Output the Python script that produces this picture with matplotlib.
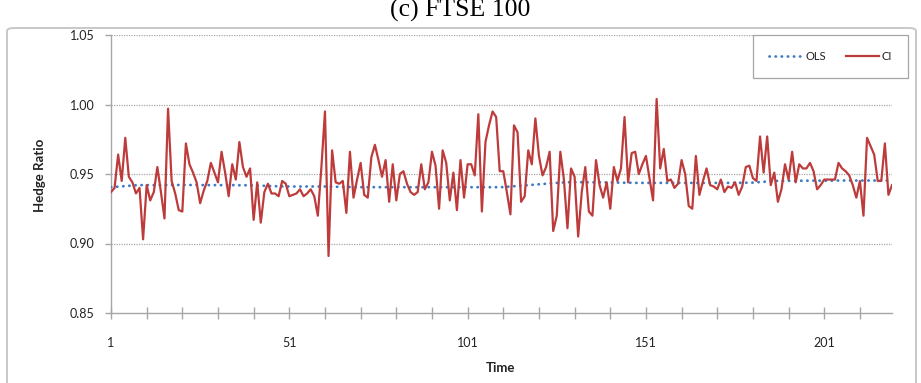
import numpy as np
import matplotlib
matplotlib.use("Agg")
import matplotlib.pyplot as plt
from matplotlib.patches import FancyBboxPatch
from matplotlib.ticker import FixedLocator, FuncFormatter

# Time index (observations 1..220)
time = np.arange(1, 221)

# Hedge ratio from the cointegration (CI) model
ci = [
    0.937, 0.940, 0.964, 0.945, 0.976, 0.948, 0.944, 0.936, 0.940, 0.903,
    0.942, 0.931, 0.937, 0.955, 0.937, 0.918, 0.997, 0.945, 0.936, 0.924,
    0.923, 0.972, 0.957, 0.951, 0.944, 0.929, 0.938, 0.945, 0.958, 0.951,
    0.944, 0.966, 0.951, 0.934, 0.957, 0.946, 0.973, 0.955, 0.948, 0.954,
    0.917, 0.944, 0.915, 0.937, 0.943, 0.936, 0.936, 0.934, 0.945, 0.943,
    0.934, 0.935, 0.936, 0.939, 0.934, 0.936, 0.939, 0.934, 0.920, 0.955,
    0.995, 0.891, 0.967, 0.944, 0.943, 0.945, 0.922, 0.966, 0.933, 0.946,
    0.958, 0.935, 0.933, 0.962, 0.971, 0.960, 0.948, 0.960, 0.930, 0.957,
    0.931, 0.950, 0.952, 0.943, 0.937, 0.935, 0.937, 0.957, 0.939, 0.944,
    0.966, 0.956, 0.925, 0.967, 0.958, 0.931, 0.951, 0.924, 0.960, 0.933,
    0.957, 0.957, 0.949, 0.993, 0.923, 0.973, 0.985, 0.995, 0.991, 0.952,
    0.952, 0.937, 0.921, 0.985, 0.980, 0.930, 0.934, 0.967, 0.957, 0.990,
    0.963, 0.949, 0.955, 0.966, 0.909, 0.920, 0.966, 0.946, 0.911, 0.954,
    0.948, 0.905, 0.937, 0.955, 0.923, 0.920, 0.960, 0.942, 0.933, 0.944,
    0.925, 0.955, 0.945, 0.954, 0.991, 0.944, 0.965, 0.966, 0.950, 0.957,
    0.963, 0.947, 0.931, 1.004, 0.954, 0.968, 0.945, 0.946, 0.940, 0.943,
    0.960, 0.950, 0.927, 0.925, 0.963, 0.935, 0.945, 0.954, 0.942, 0.941,
    0.939, 0.946, 0.937, 0.941, 0.940, 0.944, 0.935, 0.941, 0.955, 0.956,
    0.947, 0.945, 0.977, 0.951, 0.977, 0.942, 0.951, 0.930, 0.939, 0.957,
    0.946, 0.966, 0.944, 0.957, 0.954, 0.954, 0.958, 0.952, 0.939, 0.942,
    0.946, 0.946, 0.946, 0.946, 0.958, 0.954, 0.952, 0.949, 0.942, 0.933,
    0.945, 0.920, 0.976, 0.970, 0.964, 0.945, 0.945, 0.972, 0.935, 0.942,
]

# Hedge ratio from OLS
ols = [
    0.9405, 0.9407, 0.9409, 0.9411, 0.9413, 0.9415, 0.9417, 0.9419, 0.9420, 0.9420,
    0.9420, 0.9420, 0.9420, 0.9420, 0.9420, 0.9420, 0.9421, 0.9421, 0.9421, 0.9421,
    0.9421, 0.9421, 0.9421, 0.9421, 0.9421, 0.9421, 0.9420, 0.9420, 0.9420, 0.9420,
    0.9420, 0.9420, 0.9420, 0.9420, 0.9420, 0.9420, 0.9419, 0.9419, 0.9419, 0.9419,
    0.9418, 0.9417, 0.9416, 0.9415, 0.9414, 0.9413, 0.9412, 0.9412, 0.9411, 0.9411,
    0.9410, 0.9410, 0.9410, 0.9410, 0.9410, 0.9410, 0.9410, 0.9410, 0.9410, 0.9410,
    0.9410, 0.9409, 0.9409, 0.9408, 0.9408, 0.9407, 0.9407, 0.9406, 0.9406, 0.9405,
    0.9405, 0.9405, 0.9405, 0.9405, 0.9405, 0.9405, 0.9405, 0.9405, 0.9405, 0.9405,
    0.9405, 0.9405, 0.9405, 0.9405, 0.9405, 0.9405, 0.9405, 0.9405, 0.9405, 0.9405,
    0.9405, 0.9405, 0.9405, 0.9405, 0.9405, 0.9405, 0.9405, 0.9405, 0.9405, 0.9405,
    0.9405, 0.9405, 0.9405, 0.9405, 0.9405, 0.9405, 0.9405, 0.9405, 0.9405, 0.9405,
    0.9406, 0.9408, 0.9410, 0.9412, 0.9414, 0.9416, 0.9418, 0.9420, 0.9422, 0.9424,
    0.9426, 0.9428, 0.9430, 0.9432, 0.9434, 0.9436, 0.9438, 0.9439, 0.9440, 0.9441,
    0.9441, 0.9441, 0.9441, 0.9441, 0.9440, 0.9440, 0.9440, 0.9440, 0.9439, 0.9439,
    0.9439, 0.9438, 0.9438, 0.9438, 0.9437, 0.9437, 0.9437, 0.9436, 0.9436, 0.9436,
    0.9436, 0.9436, 0.9436, 0.9436, 0.9436, 0.9436, 0.9436, 0.9436, 0.9436, 0.9436,
    0.9436, 0.9436, 0.9436, 0.9436, 0.9436, 0.9436, 0.9436, 0.9436, 0.9436, 0.9436,
    0.9436, 0.9436, 0.9436, 0.9436, 0.9436, 0.9437, 0.9437, 0.9437, 0.9437, 0.9437,
    0.9438, 0.9440, 0.9442, 0.9444, 0.9446, 0.9448, 0.9450, 0.9450, 0.9450, 0.9451,
    0.9451, 0.9451, 0.9451, 0.9451, 0.9452, 0.9452, 0.9452, 0.9452, 0.9452, 0.9452,
    0.9452, 0.9452, 0.9452, 0.9453, 0.9453, 0.9453, 0.9453, 0.9453, 0.9453, 0.9453,
    0.9453, 0.9453, 0.9453, 0.9453, 0.9453, 0.9453, 0.9453, 0.9453, 0.9453, 0.9453,
]

y_ticks = [0.85, 0.90, 0.95, 1.00, 1.05]
x_labels = [1, 51, 101, 151, 201]

plt.rcParams["font.family"] = ["Lato", "DejaVu Sans"]

W, H = 921, 383
fig = plt.figure(figsize=(W / 100, H / 100), dpi=100)

# Chart frame (outline only, behind everything)
frame = FancyBboxPatch((7 / W, -0.05), (916 - 7) / W, (383 - 28) / H + 0.05,
                       boxstyle="round,pad=0,rounding_size=0.008",
                       transform=fig.transFigure, facecolor="none",
                       edgecolor="#c8c8c8", linewidth=1.4, zorder=-1)
fig.patches.append(frame)

fig.text(0.5, 1 - 17 / H, "(c) FTSE 100", ha="center", va="baseline",
         fontsize=18.5, family=["Liberation Serif", "DejaVu Serif"])

left, right, top, bottom = 111, 892, 35, 313
ax = fig.add_axes([left / W, 1 - bottom / H, (right - left) / W, (bottom - top) / H])
ax.set_facecolor("none")

ax.plot(time, ols, color="#3d7cc4", lw=2.0, linestyle=(0, (0.1, 2.1)),
        dash_capstyle="round", label="OLS", zorder=3)
ax.plot(time, ci, color="#be3b3b", lw=1.6, label="CI", zorder=4)

ax.set_xlim(1, 220)
ax.set_ylim(0.85, 1.05)

for yv in y_ticks[1:]:
    ax.axhline(yv, color="#a6a6a6", lw=0.9, linestyle=(0, (1, 1)), zorder=1)

for s in ["top", "right"]:
    ax.spines[s].set_visible(False)
for s in ["left", "bottom"]:
    ax.spines[s].set_color("#a6a6a6")
    ax.spines[s].set_linewidth(1.0)

ax.yaxis.set_major_locator(FixedLocator(y_ticks))
ax.yaxis.set_major_formatter(FuncFormatter(lambda v, p: f"{v:.2f}"))
ax.tick_params(axis="y", length=4, width=1.0, color="#a6a6a6", pad=8,
               labelsize=9, labelcolor="#222222")

ax.xaxis.set_major_locator(FixedLocator(x_labels))
ax.xaxis.set_minor_locator(FixedLocator(np.arange(1, 221, 10)))
ax.tick_params(axis="x", which="both", direction="inout", length=8, width=1.0,
               color="#a6a6a6", pad=13, labelsize=9, labelcolor="#222222")

fig.text(40 / W, 1 - 175 / H, "Hedge Ratio", rotation=90, ha="center",
         va="center", fontsize=9.5, fontweight="bold", color="#222222")
fig.text(500 / W, 1 - 368 / H, "Time", ha="center", va="center",
         fontsize=9.5, fontweight="bold", color="#222222")

leg = fig.legend(loc="upper left", bbox_to_anchor=(753 / W, 1 - 35 / H),
                 ncol=2, fontsize=8, handlelength=3.0, handletextpad=0.25,
                 columnspacing=1.8, borderpad=1.45, borderaxespad=0,
                 fancybox=False, frameon=True, framealpha=1)
leg.get_frame().set_edgecolor("#a6a6a6")
leg.get_frame().set_linewidth(0.9)
leg.set_zorder(10)
for t in leg.get_texts():
    t.set_color("#222222")

fig.savefig("out.png", dpi=100)
